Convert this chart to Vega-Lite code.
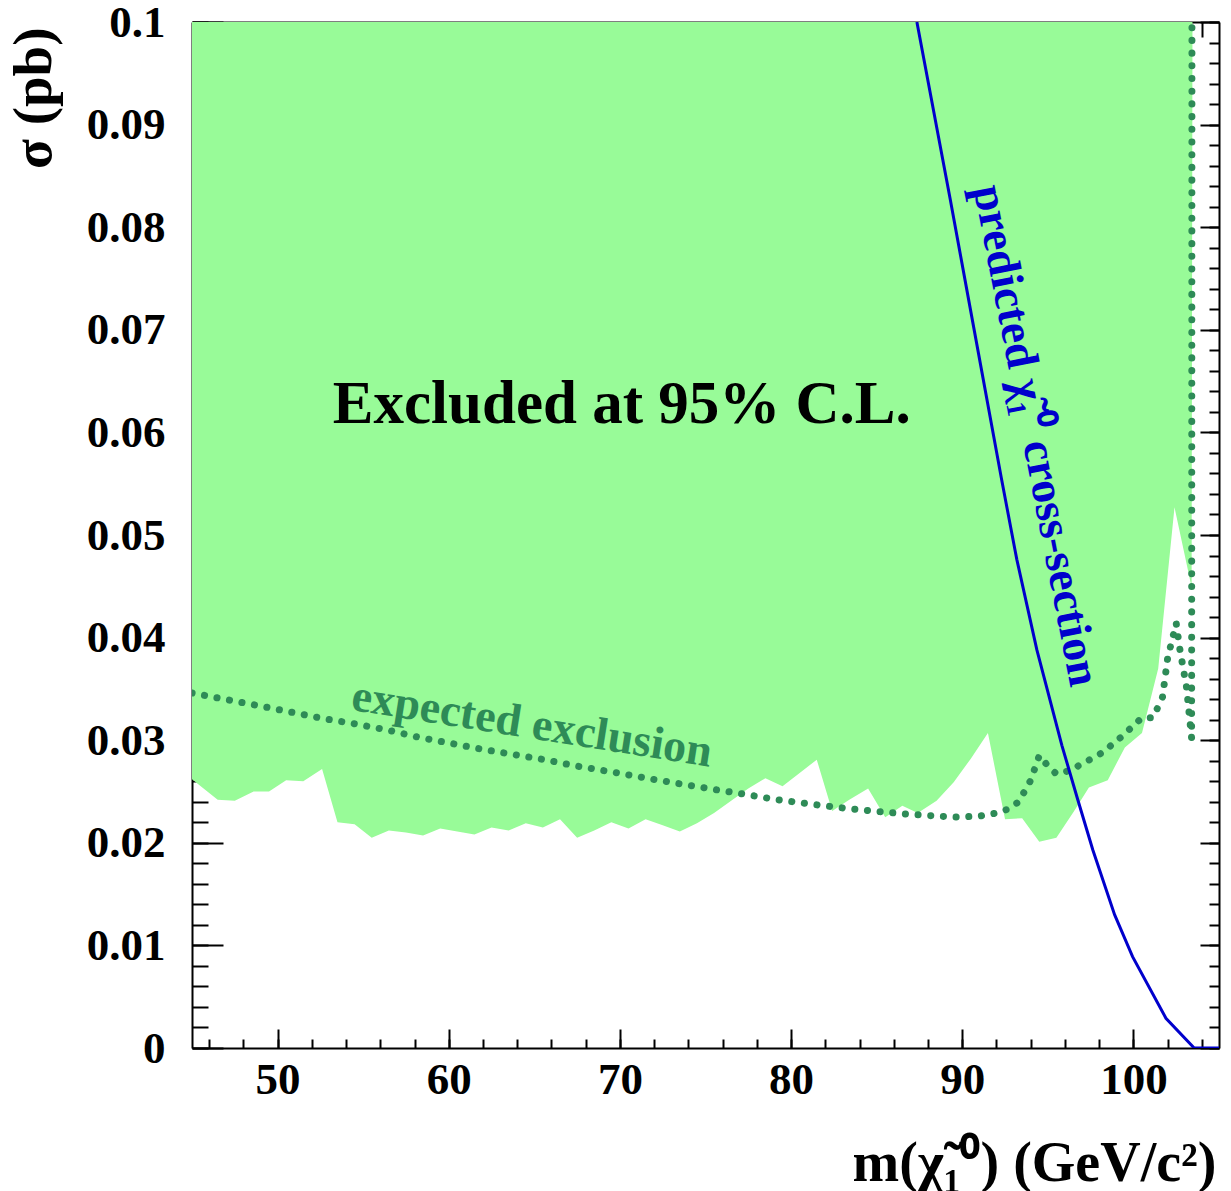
{
  "$schema": "https://vega.github.io/schema/vega-lite/v6.json",
  "width": 1027,
  "height": 1026,
  "autosize": {"type": "none"},
  "padding": {"left": 192, "top": 22, "right": 12, "bottom": 143},
  "background": "white",
  "config": {
    "view": {"stroke": null},
    "axis": {
      "zindex": 1,
      "grid": false,
      "domain": false,
      "tickColor": "black",
      "tickWidth": 2,
      "labelFont": "Liberation Serif",
      "labelFontWeight": "bold",
      "labelFontSize": 45,
      "labelColor": "black",
      "labelOverlap": false,
      "labelFlush": false,
      "titleFont": "Liberation Serif",
      "titleFontWeight": "bold",
      "titleColor": "black"
    }
  },
  "datasets": {
    "observed": [
      {"mass": 45.0, "sigma": 0.0262},
      {"mass": 46.5, "sigma": 0.0242},
      {"mass": 47.5, "sigma": 0.0241},
      {"mass": 48.6, "sigma": 0.0250},
      {"mass": 49.5, "sigma": 0.0250},
      {"mass": 50.5, "sigma": 0.0261},
      {"mass": 51.5, "sigma": 0.0260},
      {"mass": 52.6, "sigma": 0.0272},
      {"mass": 53.5, "sigma": 0.0220},
      {"mass": 54.5, "sigma": 0.0218},
      {"mass": 55.5, "sigma": 0.0205},
      {"mass": 56.5, "sigma": 0.0212},
      {"mass": 57.5, "sigma": 0.0210},
      {"mass": 58.5, "sigma": 0.0207},
      {"mass": 59.5, "sigma": 0.0214},
      {"mass": 60.5, "sigma": 0.0211},
      {"mass": 61.5, "sigma": 0.0208},
      {"mass": 62.5, "sigma": 0.0215},
      {"mass": 63.5, "sigma": 0.0212},
      {"mass": 64.5, "sigma": 0.0219},
      {"mass": 65.5, "sigma": 0.0215},
      {"mass": 66.5, "sigma": 0.0223},
      {"mass": 67.5, "sigma": 0.0205},
      {"mass": 68.5, "sigma": 0.0212},
      {"mass": 69.5, "sigma": 0.0220},
      {"mass": 70.5, "sigma": 0.0214},
      {"mass": 71.5, "sigma": 0.0223},
      {"mass": 72.5, "sigma": 0.0217},
      {"mass": 73.5, "sigma": 0.0211},
      {"mass": 74.5, "sigma": 0.0219},
      {"mass": 75.5, "sigma": 0.0229},
      {"mass": 76.5, "sigma": 0.0241},
      {"mass": 77.5, "sigma": 0.0253},
      {"mass": 78.5, "sigma": 0.0263},
      {"mass": 79.5, "sigma": 0.0255},
      {"mass": 80.5, "sigma": 0.0268},
      {"mass": 81.5, "sigma": 0.0281},
      {"mass": 82.4, "sigma": 0.0231},
      {"mass": 83.4, "sigma": 0.0242},
      {"mass": 84.5, "sigma": 0.0253},
      {"mass": 85.5, "sigma": 0.0225},
      {"mass": 86.5, "sigma": 0.0236},
      {"mass": 87.4, "sigma": 0.0229},
      {"mass": 88.5, "sigma": 0.0241},
      {"mass": 89.5, "sigma": 0.0259},
      {"mass": 90.5, "sigma": 0.0282},
      {"mass": 91.5, "sigma": 0.0307},
      {"mass": 92.5, "sigma": 0.0223},
      {"mass": 93.5, "sigma": 0.0224},
      {"mass": 94.5, "sigma": 0.0201},
      {"mass": 95.5, "sigma": 0.0205},
      {"mass": 96.5, "sigma": 0.0230},
      {"mass": 97.4, "sigma": 0.0254},
      {"mass": 98.5, "sigma": 0.0261},
      {"mass": 99.5, "sigma": 0.0293},
      {"mass": 100.5, "sigma": 0.0307},
      {"mass": 101.45, "sigma": 0.0370},
      {"mass": 102.4, "sigma": 0.0527},
      {"mass": 103.4, "sigma": 0.0449},
      {"mass": 103.45, "sigma": 0.1}
    ],
    "expected": [
      {"mass": 45.0, "sigma": 0.0346},
      {"mass": 47.2, "sigma": 0.0339},
      {"mass": 49.1, "sigma": 0.0333},
      {"mass": 50.9, "sigma": 0.0327},
      {"mass": 52.7, "sigma": 0.0321},
      {"mass": 54.5, "sigma": 0.0316},
      {"mass": 56.4, "sigma": 0.0310},
      {"mass": 58.2, "sigma": 0.0303},
      {"mass": 60.1, "sigma": 0.0297},
      {"mass": 62.0, "sigma": 0.0291},
      {"mass": 63.8, "sigma": 0.0286},
      {"mass": 65.6, "sigma": 0.0281},
      {"mass": 67.4, "sigma": 0.0275},
      {"mass": 69.9, "sigma": 0.0268},
      {"mass": 71.9, "sigma": 0.0262},
      {"mass": 73.7, "sigma": 0.0257},
      {"mass": 75.5, "sigma": 0.0252},
      {"mass": 77.4, "sigma": 0.0247},
      {"mass": 79.2, "sigma": 0.0242},
      {"mass": 81.0, "sigma": 0.0238},
      {"mass": 83.0, "sigma": 0.0234},
      {"mass": 84.8, "sigma": 0.0231},
      {"mass": 86.7, "sigma": 0.0228},
      {"mass": 88.6, "sigma": 0.0226},
      {"mass": 89.7, "sigma": 0.0225},
      {"mass": 91.0, "sigma": 0.0226},
      {"mass": 92.0, "sigma": 0.0229},
      {"mass": 92.7, "sigma": 0.0233},
      {"mass": 93.3, "sigma": 0.0240},
      {"mass": 94.0, "sigma": 0.0261},
      {"mass": 94.5, "sigma": 0.0285},
      {"mass": 95.0, "sigma": 0.0275},
      {"mass": 95.5, "sigma": 0.0267},
      {"mass": 96.2, "sigma": 0.0270},
      {"mass": 96.9, "sigma": 0.0276},
      {"mass": 98.2, "sigma": 0.0288},
      {"mass": 99.35, "sigma": 0.0304},
      {"mass": 100.5, "sigma": 0.0322},
      {"mass": 101.15, "sigma": 0.0322},
      {"mass": 101.7, "sigma": 0.0342},
      {"mass": 102.0, "sigma": 0.0380},
      {"mass": 102.5, "sigma": 0.0414},
      {"mass": 102.7, "sigma": 0.0390},
      {"mass": 103.1, "sigma": 0.0352},
      {"mass": 103.4, "sigma": 0.0302},
      {"mass": 103.42, "sigma": 0.1}
    ],
    "predicted": [
      {"mass": 87.35, "sigma": 0.1},
      {"mass": 89.3, "sigma": 0.0827},
      {"mass": 90.3, "sigma": 0.0736},
      {"mass": 92.3, "sigma": 0.0554},
      {"mass": 93.19, "sigma": 0.0476},
      {"mass": 94.36, "sigma": 0.0388},
      {"mass": 95.82, "sigma": 0.0295},
      {"mass": 96.75, "sigma": 0.0242},
      {"mass": 97.63, "sigma": 0.0193},
      {"mass": 98.9, "sigma": 0.0130},
      {"mass": 99.95, "sigma": 0.0089},
      {"mass": 101.9, "sigma": 0.0029},
      {"mass": 103.55, "sigma": 0.0},
      {"mass": 105.0, "sigma": 0.0}
    ]
  },
  "layer": [
    {
      "data": {"name": "observed"},
      "mark": {"type": "area", "color": "#98fb98", "opacity": 1, "interpolate": "linear", "clip": true},
      "encoding": {
        "x": {
          "field": "mass", "type": "quantitative",
          "scale": {"domain": [45, 105], "nice": false, "zero": false},
          "axis": {
            "orient": "bottom",
            "values": [50, 60, 70, 80, 90, 100],
            "format": "d",
            "tickSize": -19,
            "labelPadding": 28,
            "domain": true, "domainColor": "black", "domainWidth": 2,
            "title": "m(χ̃₁⁰)  (GeV/c²)",
            "titleFontSize": 56,
            "titleAlign": "right",
            "titleBaseline": "alphabetic",
            "titleX": 1024,
            "titleY": 132
          }
        },
        "y": {
          "field": "sigma", "type": "quantitative",
          "scale": {"domain": [0, 0.1], "nice": false, "zero": false},
          "axis": {
            "orient": "left",
            "values": [0, 0.01, 0.02, 0.03, 0.04, 0.05, 0.06, 0.07, 0.08, 0.09, 0.1],
            "format": "~g",
            "tickSize": -31,
            "labelPadding": 58,
            "domain": true, "domainColor": "black", "domainWidth": 2,
            "title": "σ (pb)",
            "titleFontSize": 55,
            "titleAngle": 270,
            "titleAlign": "right",
            "titleBaseline": "middle",
            "titleX": -159,
            "titleY": 5
          }
        },
        "y2": {"datum": 0.1}
      }
    },
    {
      "data": {"name": "expected"},
      "mark": {"type": "line", "color": "#2e8b57", "strokeWidth": 7, "strokeDash": [0.1, 12.6], "strokeCap": "round", "clip": true},
      "encoding": {
        "x": {
          "field": "mass", "type": "quantitative",
          "scale": {"domain": [45, 105], "nice": false, "zero": false},
          "axis": {
            "orient": "bottom",
            "values": [46, 48, 50, 52, 54, 56, 58, 60, 62, 64, 66, 68, 70, 72, 74, 76, 78, 80, 82, 84, 86, 88, 90, 92, 94, 96, 98, 100, 102, 104],
            "tickSize": -9,
            "labels": false,
            "title": null
          }
        },
        "y": {
          "field": "sigma", "type": "quantitative",
          "scale": {"domain": [0, 0.1], "nice": false, "zero": false},
          "axis": {
            "orient": "left",
            "values": [0, 0.002, 0.004, 0.006, 0.008, 0.01, 0.012, 0.014, 0.016, 0.018, 0.02, 0.022, 0.024, 0.026, 0.028, 0.03, 0.032, 0.034, 0.036, 0.038, 0.04, 0.042, 0.044, 0.046, 0.048, 0.05, 0.052, 0.054, 0.056, 0.058, 0.06, 0.062, 0.064, 0.066, 0.068, 0.07, 0.072, 0.074, 0.076, 0.078, 0.08, 0.082, 0.084, 0.086, 0.088, 0.09, 0.092, 0.094, 0.096, 0.098, 0.1],
            "tickSize": -16,
            "labels": false,
            "title": null
          }
        }
      }
    },
    {
      "data": {"name": "predicted"},
      "mark": {"type": "line", "color": "#0000cc", "strokeWidth": 3, "clip": true},
      "encoding": {
        "x": {
          "field": "mass", "type": "quantitative",
          "scale": {"domain": [45, 105], "nice": false, "zero": false},
          "axis": {
            "orient": "top",
            "values": [60, 80, 100],
            "tickSize": -31,
            "labels": false,
            "domain": true, "domainColor": "black", "domainWidth": 2,
            "title": null
          }
        },
        "y": {
          "field": "sigma", "type": "quantitative",
          "scale": {"domain": [0, 0.1], "nice": false, "zero": false},
          "axis": {
            "orient": "right",
            "values": [0, 0.01, 0.02, 0.03, 0.04, 0.05, 0.06, 0.07, 0.08, 0.09, 0.1],
            "tickSize": -19,
            "labels": false,
            "domain": true, "domainColor": "black", "domainWidth": 2,
            "title": null
          }
        }
      }
    },
    {
      "data": {"values": [{"mass": 70.11, "sigma": 0.0609, "label": "Excluded at 95% C.L."}]},
      "mark": {"type": "text", "font": "Liberation Serif", "fontWeight": "bold", "fontSize": 61, "color": "black", "align": "center", "baseline": "alphabetic"},
      "encoding": {
        "x": {
          "field": "mass", "type": "quantitative",
          "scale": {"domain": [45, 105], "nice": false, "zero": false},
          "axis": {
            "orient": "top",
            "values": [46, 48, 50, 52, 54, 56, 58, 60, 62, 64, 66, 68, 70, 72, 74, 76, 78, 80, 82, 84, 86, 88, 90, 92, 94, 96, 98, 100, 102, 104],
            "tickSize": -15,
            "labels": false,
            "title": null
          }
        },
        "y": {
          "field": "sigma", "type": "quantitative",
          "scale": {"domain": [0, 0.1], "nice": false, "zero": false},
          "axis": {
            "orient": "right",
            "values": [0, 0.002, 0.004, 0.006, 0.008, 0.01, 0.012, 0.014, 0.016, 0.018, 0.02, 0.022, 0.024, 0.026, 0.028, 0.03, 0.032, 0.034, 0.036, 0.038, 0.04, 0.042, 0.044, 0.046, 0.048, 0.05, 0.052, 0.054, 0.056, 0.058, 0.06, 0.062, 0.064, 0.066, 0.068, 0.07, 0.072, 0.074, 0.076, 0.078, 0.08, 0.082, 0.084, 0.086, 0.088, 0.09, 0.092, 0.094, 0.096, 0.098, 0.1],
            "tickSize": -10,
            "labels": false,
            "title": null
          }
        },
        "text": {"field": "label"}
      }
    },
    {
      "data": {"values": [{"mass": 64.73, "sigma": 0.0302, "label": "expected exclusion"}]},
      "mark": {"type": "text", "font": "Liberation Serif", "fontWeight": "bold", "fontSize": 46, "color": "#2e8b57", "align": "center", "baseline": "alphabetic", "angle": 9},
      "encoding": {
        "x": {"field": "mass", "type": "quantitative", "axis": null},
        "y": {"field": "sigma", "type": "quantitative", "axis": null},
        "text": {"field": "label"}
      }
    },
    {
      "data": {"values": [{"mass": 94.3, "sigma": 0.0597, "label": "predicted χ̃₁⁰ cross-section"}]},
      "mark": {"type": "text", "font": "Liberation Serif", "fontWeight": "bold", "fontSize": 46, "color": "#0000cc", "align": "center", "baseline": "middle", "angle": 79},
      "encoding": {
        "x": {"field": "mass", "type": "quantitative", "axis": null},
        "y": {"field": "sigma", "type": "quantitative", "axis": null},
        "text": {"field": "label"}
      }
    }
  ],
  "resolve": {"axis": {"x": "independent", "y": "independent"}}
}
